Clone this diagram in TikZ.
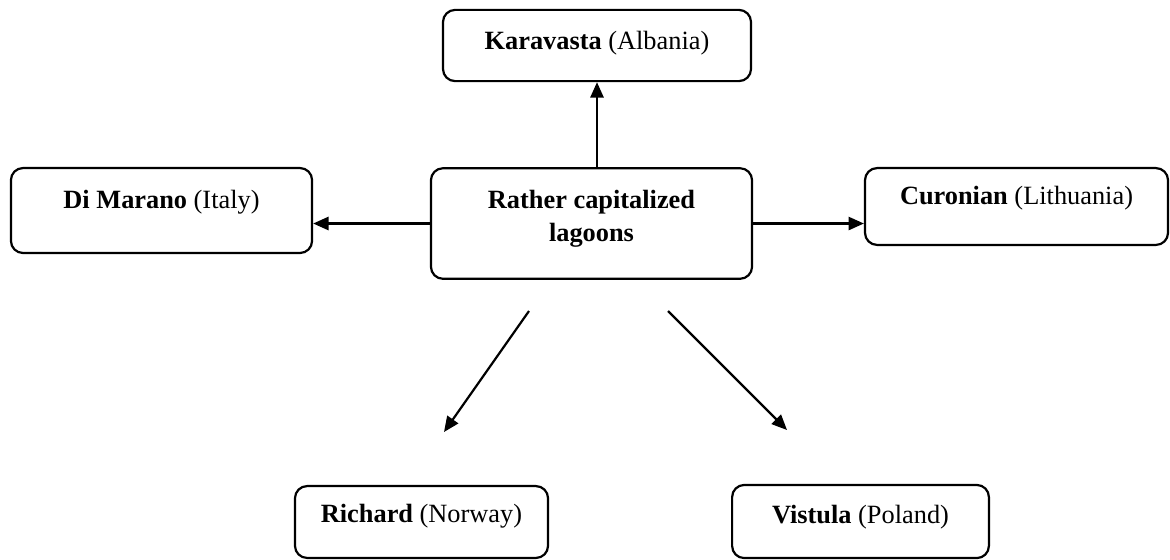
\documentclass[tikz,border=0pt]{standalone}
\usepackage{fontspec}
\setmainfont{Liberation Serif}
\usetikzlibrary{arrows.meta}

\begin{document}
\begin{tikzpicture}[x=0.016cm, y=-0.016cm, font=\fontsize{12}{15.4}\selectfont,
        >={Triangle[length=7pt,width=6pt]},
        lagoon/.style={rectangle, draw, line width=1pt, rounded corners=5.5pt, inner sep=0pt, align=center},
        link/.style={->, line width=1pt}]
        \useasboundingbox (0,0) rectangle (1170,559);

        \node (lagoons) [lagoon, minimum width=5.14cm, text height=1.18cm, text depth=0.59cm] at (591.5,223.5) {\textbf{Rather capitalized}\\\textbf{lagoons}};
        \node (karavasta) [lagoon, minimum width=4.93cm, text height=0.64cm, text depth=0.50cm] at (597,45.5) {\textbf{Karavasta} (Albania)};
        \node (marano) [lagoon, minimum width=4.82cm, text height=0.64cm, text depth=0.72cm] at (161.5,210.5) {\textbf{Di Marano} (Italy)};
        \node (curonian) [lagoon, minimum width=4.85cm, text height=0.59cm, text depth=0.64cm] at (1016.5,206.5) {\textbf{Curonian} (Lithuania)};
        \node (richard) [lagoon, minimum width=4.05cm, text height=0.59cm, text depth=0.56cm] at (421.5,522) {\textbf{Richard} (Norway)};
        \node (vistula) [lagoon, minimum width=4.11cm, text height=0.61cm, text depth=0.56cm] at (860.5,521.5) {\textbf{Vistula} (Poland)};

        % loose arrows below the middle box
        \coordinate (richardfrom) at (529,311);
        \coordinate (richardto) at (444,432);
        \coordinate (vistulafrom) at (668,311);
        \coordinate (vistulato) at (787,430);

        \draw[link] (karavasta.south |- lagoons.north) -- (karavasta.south);
        \draw[link] (lagoons.west) -- (lagoons.west -| marano.east);
        \draw[link] (lagoons.east) -- (lagoons.east -| curonian.west);
        \draw[link] (richardfrom) -- (richardto);
        \draw[link] (vistulafrom) -- (vistulato);
\end{tikzpicture}
\end{document}
